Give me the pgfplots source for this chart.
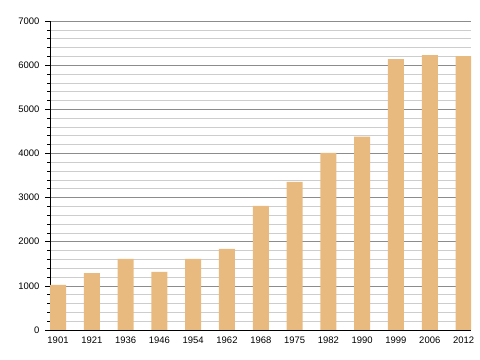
\documentclass[border=0pt]{standalone}
\usepackage{pgfplots}
\pgfplotsset{compat=1.18}
\usepackage{fontspec}
\setmainfont{Liberation Sans}
\definecolor{barc}{RGB}{232,186,128}
\definecolor{majg}{RGB}{140,140,140}
\definecolor{ming}{RGB}{205,205,205}
\begin{document}
\begin{tikzpicture}
\path[use as bounding box] (-50bp,-30bp) rectangle (430bp,330bp);
\begin{axis}[
  at={(0,0)}, anchor=south west,
  scale only axis, width=421bp, height=309bp,
  xmin=-0.237, xmax=12.22, ymin=0, ymax=7000,
  axis x line=bottom, axis y line=left,
  axis line style={-, black, line width=0.8pt},
  xtick={0,...,12},
  xticklabels={1901,1921,1936,1946,1954,1962,1968,1975,1982,1990,1999,2006,2012},
  x tick style={draw=none},
  ytick={0,1000,...,7000},
  minor y tick num=4,
  y tick style={black, line width=0.6pt},
  tick align=outside,
  major tick length=5bp, minor tick length=3bp,
  ymajorgrids, yminorgrids,
  major grid style={majg, line width=0.6pt},
  minor grid style={ming, line width=0.6pt},
  tick label style={font=\fontsize{9.5}{11}\selectfont},
  /pgf/number format/assume math mode=true,
  /pgf/number format/1000 sep={},
  xticklabel style={yshift=2bp},
  yticklabel style={xshift=-2bp},
  axis on top=false,
]
\addplot[ybar, bar width=16bp, fill=barc, draw=none] coordinates {
(0,1020) (1,1290) (2,1610) (3,1315) (4,1610) (5,1835) (6,2810)
(7,3355) (8,4010) (9,4380) (10,6135) (11,6225) (12,6205)};
\end{axis}
\end{tikzpicture}
\end{document}
